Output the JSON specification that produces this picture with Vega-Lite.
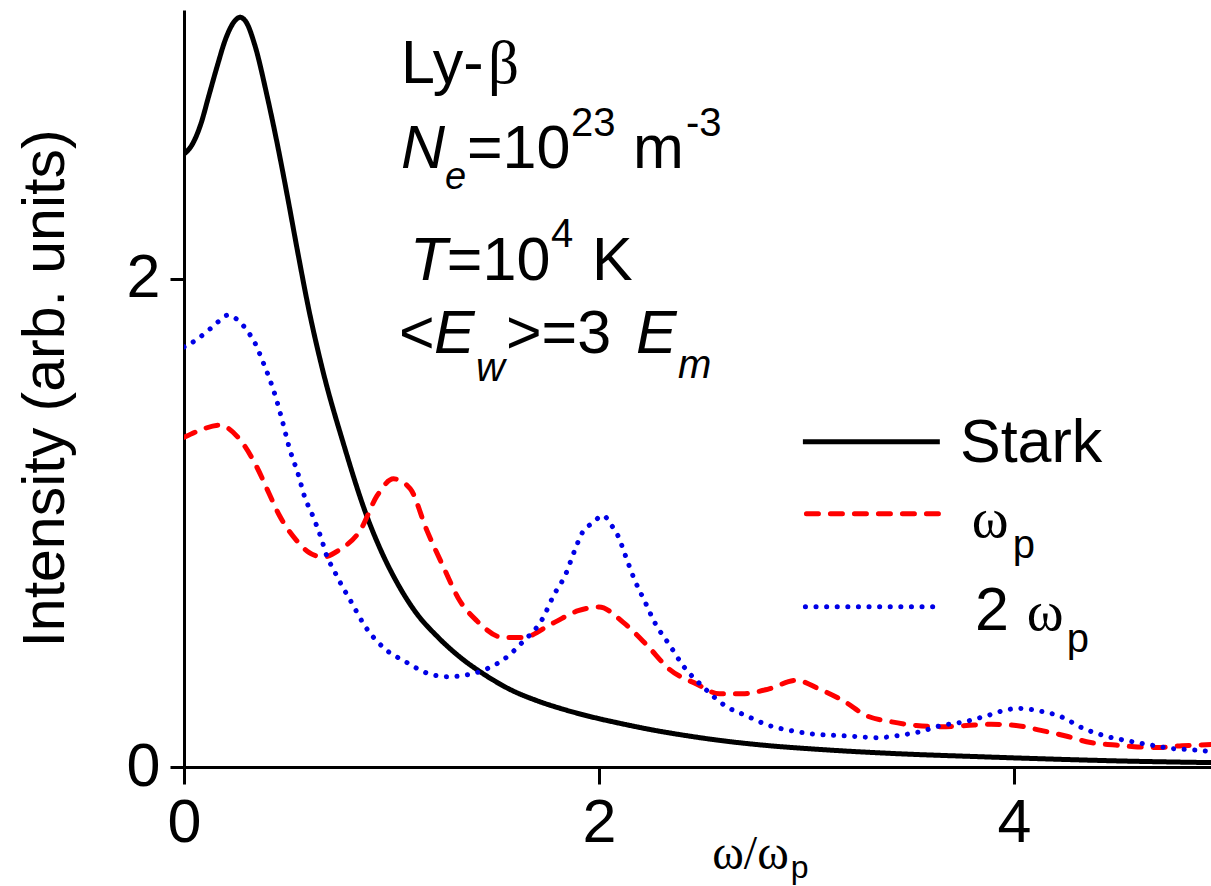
{
  "$schema": "https://vega.github.io/schema/vega-lite/v6.json",
  "width": 1027,
  "height": 757,
  "autosize": {"type": "none"},
  "padding": {"left": 184, "top": 10, "right": 0, "bottom": 119},
  "background": "white",
  "config": {"view": {"stroke": null}, "font": "Liberation Sans"},
  "datasets": {
    "one": [{}],
    "curves": [
      {"series": "Stark", "x": 0, "y": 2.51}, {"series": "Stark", "x": 0.04, "y": 2.55}, {"series": "Stark", "x": 0.08, "y": 2.63}, {"series": "Stark", "x": 0.12, "y": 2.75}, {"series": "Stark", "x": 0.16, "y": 2.87}, {"series": "Stark", "x": 0.2, "y": 2.98}, {"series": "Stark", "x": 0.24, "y": 3.05}, {"series": "Stark", "x": 0.27, "y": 3.07}, {"series": "Stark", "x": 0.3, "y": 3.05}, {"series": "Stark", "x": 0.34, "y": 2.96}, {"series": "Stark", "x": 0.4, "y": 2.75}, {"series": "Stark", "x": 0.45, "y": 2.55}, {"series": "Stark", "x": 0.5, "y": 2.33}, {"series": "Stark", "x": 0.55, "y": 2.1}, {"series": "Stark", "x": 0.6, "y": 1.88}, {"series": "Stark", "x": 0.67, "y": 1.62}, {"series": "Stark", "x": 0.77, "y": 1.32}, {"series": "Stark", "x": 0.88, "y": 1.03}, {"series": "Stark", "x": 0.95, "y": 0.885}, {"series": "Stark", "x": 1.03, "y": 0.75}, {"series": "Stark", "x": 1.12, "y": 0.63}, {"series": "Stark", "x": 1.22, "y": 0.535}, {"series": "Stark", "x": 1.33, "y": 0.45}, {"series": "Stark", "x": 1.44, "y": 0.383}, {"series": "Stark", "x": 1.57, "y": 0.318}, {"series": "Stark", "x": 1.7, "y": 0.272}, {"series": "Stark", "x": 1.83, "y": 0.236}, {"series": "Stark", "x": 1.96, "y": 0.206}, {"series": "Stark", "x": 2.1, "y": 0.179}, {"series": "Stark", "x": 2.25, "y": 0.153}, {"series": "Stark", "x": 2.44, "y": 0.126}, {"series": "Stark", "x": 2.6, "y": 0.107}, {"series": "Stark", "x": 2.76, "y": 0.092}, {"series": "Stark", "x": 3.08, "y": 0.071}, {"series": "Stark", "x": 3.4, "y": 0.056}, {"series": "Stark", "x": 3.84, "y": 0.042}, {"series": "Stark", "x": 4.2, "y": 0.032}, {"series": "Stark", "x": 4.5, "y": 0.025}, {"series": "Stark", "x": 4.95, "y": 0.018},
      {"series": "ωp", "x": 0, "y": 1.35}, {"series": "ωp", "x": 0.08, "y": 1.38}, {"series": "ωp", "x": 0.17, "y": 1.4}, {"series": "ωp", "x": 0.27, "y": 1.34}, {"series": "ωp", "x": 0.35, "y": 1.23}, {"series": "ωp", "x": 0.41, "y": 1.12}, {"series": "ωp", "x": 0.46, "y": 1.03}, {"series": "ωp", "x": 0.54, "y": 0.93}, {"series": "ωp", "x": 0.6, "y": 0.88}, {"series": "ωp", "x": 0.67, "y": 0.86}, {"series": "ωp", "x": 0.75, "y": 0.89}, {"series": "ωp", "x": 0.85, "y": 0.97}, {"series": "ωp", "x": 0.93, "y": 1.11}, {"series": "ωp", "x": 1.01, "y": 1.18}, {"series": "ωp", "x": 1.09, "y": 1.14}, {"series": "ωp", "x": 1.17, "y": 0.97}, {"series": "ωp", "x": 1.25, "y": 0.82}, {"series": "ωp", "x": 1.33, "y": 0.68}, {"series": "ωp", "x": 1.41, "y": 0.6}, {"series": "ωp", "x": 1.54, "y": 0.53}, {"series": "ωp", "x": 1.63, "y": 0.53}, {"series": "ωp", "x": 1.78, "y": 0.59}, {"series": "ωp", "x": 1.9, "y": 0.64}, {"series": "ωp", "x": 2.0, "y": 0.655}, {"series": "ωp", "x": 2.12, "y": 0.59}, {"series": "ωp", "x": 2.23, "y": 0.5}, {"series": "ωp", "x": 2.34, "y": 0.4}, {"series": "ωp", "x": 2.47, "y": 0.34}, {"series": "ωp", "x": 2.58, "y": 0.3}, {"series": "ωp", "x": 2.69, "y": 0.3}, {"series": "ωp", "x": 2.82, "y": 0.32}, {"series": "ωp", "x": 2.95, "y": 0.355}, {"series": "ωp", "x": 3.06, "y": 0.32}, {"series": "ωp", "x": 3.18, "y": 0.27}, {"series": "ωp", "x": 3.29, "y": 0.21}, {"series": "ωp", "x": 3.41, "y": 0.185}, {"series": "ωp", "x": 3.53, "y": 0.17}, {"series": "ωp", "x": 3.65, "y": 0.165}, {"series": "ωp", "x": 3.77, "y": 0.17}, {"series": "ωp", "x": 3.89, "y": 0.175}, {"series": "ωp", "x": 4.01, "y": 0.17}, {"series": "ωp", "x": 4.13, "y": 0.15}, {"series": "ωp", "x": 4.25, "y": 0.127}, {"series": "ωp", "x": 4.37, "y": 0.1}, {"series": "ωp", "x": 4.49, "y": 0.09}, {"series": "ωp", "x": 4.58, "y": 0.083}, {"series": "ωp", "x": 4.69, "y": 0.08}, {"series": "ωp", "x": 4.81, "y": 0.087}, {"series": "ωp", "x": 4.95, "y": 0.092},
      {"series": "2 ωp", "x": 0, "y": 1.72}, {"series": "2 ωp", "x": 0.06, "y": 1.75}, {"series": "2 ωp", "x": 0.12, "y": 1.79}, {"series": "2 ωp", "x": 0.16, "y": 1.82}, {"series": "2 ωp", "x": 0.21, "y": 1.85}, {"series": "2 ωp", "x": 0.26, "y": 1.83}, {"series": "2 ωp", "x": 0.31, "y": 1.78}, {"series": "2 ωp", "x": 0.34, "y": 1.74}, {"series": "2 ωp", "x": 0.38, "y": 1.66}, {"series": "2 ωp", "x": 0.44, "y": 1.52}, {"series": "2 ωp", "x": 0.47, "y": 1.43}, {"series": "2 ωp", "x": 0.51, "y": 1.3}, {"series": "2 ωp", "x": 0.55, "y": 1.2}, {"series": "2 ωp", "x": 0.58, "y": 1.11}, {"series": "2 ωp", "x": 0.62, "y": 1.03}, {"series": "2 ωp", "x": 0.66, "y": 0.94}, {"series": "2 ωp", "x": 0.69, "y": 0.86}, {"series": "2 ωp", "x": 0.72, "y": 0.81}, {"series": "2 ωp", "x": 0.75, "y": 0.76}, {"series": "2 ωp", "x": 0.81, "y": 0.67}, {"series": "2 ωp", "x": 0.87, "y": 0.58}, {"series": "2 ωp", "x": 0.96, "y": 0.49}, {"series": "2 ωp", "x": 1.07, "y": 0.43}, {"series": "2 ωp", "x": 1.17, "y": 0.385}, {"series": "2 ωp", "x": 1.27, "y": 0.37}, {"series": "2 ωp", "x": 1.38, "y": 0.38}, {"series": "2 ωp", "x": 1.48, "y": 0.41}, {"series": "2 ωp", "x": 1.54, "y": 0.44}, {"series": "2 ωp", "x": 1.63, "y": 0.51}, {"series": "2 ωp", "x": 1.73, "y": 0.61}, {"series": "2 ωp", "x": 1.78, "y": 0.7}, {"series": "2 ωp", "x": 1.84, "y": 0.79}, {"series": "2 ωp", "x": 1.88, "y": 0.88}, {"series": "2 ωp", "x": 1.92, "y": 0.96}, {"series": "2 ωp", "x": 1.97, "y": 1.0}, {"series": "2 ωp", "x": 2.02, "y": 1.03}, {"series": "2 ωp", "x": 2.06, "y": 0.99}, {"series": "2 ωp", "x": 2.09, "y": 0.95}, {"series": "2 ωp", "x": 2.13, "y": 0.86}, {"series": "2 ωp", "x": 2.17, "y": 0.77}, {"series": "2 ωp", "x": 2.22, "y": 0.68}, {"series": "2 ωp", "x": 2.27, "y": 0.59}, {"series": "2 ωp", "x": 2.34, "y": 0.5}, {"series": "2 ωp", "x": 2.41, "y": 0.41}, {"series": "2 ωp", "x": 2.5, "y": 0.33}, {"series": "2 ωp", "x": 2.61, "y": 0.25}, {"series": "2 ωp", "x": 2.71, "y": 0.21}, {"series": "2 ωp", "x": 2.82, "y": 0.17}, {"series": "2 ωp", "x": 2.92, "y": 0.15}, {"series": "2 ωp", "x": 3.03, "y": 0.135}, {"series": "2 ωp", "x": 3.13, "y": 0.13}, {"series": "2 ωp", "x": 3.24, "y": 0.125}, {"series": "2 ωp", "x": 3.34, "y": 0.12}, {"series": "2 ωp", "x": 3.45, "y": 0.13}, {"series": "2 ωp", "x": 3.55, "y": 0.145}, {"series": "2 ωp", "x": 3.65, "y": 0.17}, {"series": "2 ωp", "x": 3.76, "y": 0.185}, {"series": "2 ωp", "x": 3.87, "y": 0.21}, {"series": "2 ωp", "x": 3.97, "y": 0.235}, {"series": "2 ωp", "x": 4.02, "y": 0.24}, {"series": "2 ωp", "x": 4.12, "y": 0.23}, {"series": "2 ωp", "x": 4.23, "y": 0.205}, {"series": "2 ωp", "x": 4.33, "y": 0.16}, {"series": "2 ωp", "x": 4.44, "y": 0.127}, {"series": "2 ωp", "x": 4.55, "y": 0.107}, {"series": "2 ωp", "x": 4.66, "y": 0.09}, {"series": "2 ωp", "x": 4.77, "y": 0.075}, {"series": "2 ωp", "x": 4.87, "y": 0.07}, {"series": "2 ωp", "x": 4.95, "y": 0.063}
    ]
  },
  "layer": [
    {
      "data": {"name": "curves"},
      "mark": {"type": "line", "interpolate": "monotone", "strokeWidth": 5, "strokeCap": "round", "clip": true},
      "encoding": {
        "x": {"field": "x", "type": "quantitative",
          "scale": {"domain": [0, 4.95], "nice": false, "zero": false},
          "axis": {"values": [0, 2, 4], "format": "d", "title": "ω/ω", "titleFont": "Liberation Serif", "titleFontSize": 48, "titleFontWeight": "normal", "titleColor": "black", "titleX": 566, "titleY": 101, "titleAlign": "center", "titleBaseline": "alphabetic", "labelFont": "Liberation Sans", "labelFontSize": 61, "labelColor": "black", "labelPadding": 9, "labelFlush": false, "labelOverlap": false, "tickSize": 17, "tickWidth": 3, "tickColor": "black", "domainColor": "black", "domainWidth": 3, "grid": false}},
        "y": {"field": "y", "type": "quantitative",
          "scale": {"domain": [0, 3.1], "nice": false, "zero": false},
          "axis": {"values": [0, 2], "format": "d", "title": "Intensity (arb. units)", "titleFont": "Liberation Sans", "titleFontSize": 59, "titleFontWeight": "normal", "titleColor": "black", "titleX": -121, "titleY": 378, "titleAngle": 270, "titleAlign": "center", "titleBaseline": "alphabetic", "labelFont": "Liberation Sans", "labelFontSize": 61, "labelColor": "black", "labelPadding": 10, "labelFlush": false, "labelOverlap": false, "tickSize": 14, "tickWidth": 3, "tickColor": "black", "domainColor": "black", "domainWidth": 3, "grid": false}},
        "color": {"field": "series", "type": "nominal", "scale": {"domain": ["Stark", "ωp", "2 ωp"], "range": ["#000000", "#ff0000", "#0000e6"]}, "legend": null},
        "strokeDash": {"field": "series", "type": "nominal", "scale": {"domain": ["Stark", "ωp", "2 ωp"], "range": [[1, 0], [12, 12], [0.1, 10.5]]}, "legend": null},
        "detail": {"field": "series"}
      }
    },
    {"data": {"name": "one"}, "mark": {"type": "rule", "stroke": "#000000", "strokeWidth": 5}, "encoding": {"x": {"datum": 2.983}, "x2": {"datum": 3.643}, "y": {"datum": 1.332}}},
    {"data": {"name": "one"}, "mark": {"type": "rule", "stroke": "#ff0000", "strokeWidth": 5, "strokeCap": "round", "strokeDash": [12, 12]}, "encoding": {"x": {"datum": 3.0}, "x2": {"datum": 3.643}, "y": {"datum": 1.037}}},
    {"data": {"name": "one"}, "mark": {"type": "rule", "stroke": "#0000e6", "strokeWidth": 5, "strokeCap": "round", "strokeDash": [0.1, 10.5]}, "encoding": {"x": {"datum": 2.995}, "x2": {"datum": 3.643}, "y": {"datum": 0.656}}},
    {"data": {"name": "one"}, "mark": {"type": "text", "text": "Stark", "font": "Liberation Sans", "fontSize": 61, "align": "left", "baseline": "alphabetic", "color": "black"}, "encoding": {"x": {"datum": 3.74}, "y": {"datum": 1.25}}},
    {"data": {"name": "one"}, "mark": {"type": "text", "text": "ω", "font": "Liberation Serif", "fontSize": 56, "align": "left", "baseline": "alphabetic", "color": "black"}, "encoding": {"x": {"datum": 3.797}, "y": {"datum": 0.943}}},
    {"data": {"name": "one"}, "mark": {"type": "text", "text": "p", "font": "Liberation Sans", "fontSize": 40, "align": "left", "baseline": "alphabetic", "color": "black"}, "encoding": {"x": {"datum": 3.995}, "y": {"datum": 0.857}}},
    {"data": {"name": "one"}, "mark": {"type": "text", "text": "2", "font": "Liberation Sans", "fontSize": 61, "align": "left", "baseline": "alphabetic", "color": "black"}, "encoding": {"x": {"datum": 3.812}, "y": {"datum": 0.561}}},
    {"data": {"name": "one"}, "mark": {"type": "text", "text": "ω", "font": "Liberation Serif", "fontSize": 56, "align": "left", "baseline": "alphabetic", "color": "black"}, "encoding": {"x": {"datum": 4.062}, "y": {"datum": 0.561}}},
    {"data": {"name": "one"}, "mark": {"type": "text", "text": "p", "font": "Liberation Sans", "fontSize": 40, "align": "left", "baseline": "alphabetic", "color": "black"}, "encoding": {"x": {"datum": 4.255}, "y": {"datum": 0.471}}},
    {"data": {"name": "one"}, "mark": {"type": "text", "text": "p", "font": "Liberation Sans", "fontSize": 32, "align": "left", "baseline": "alphabetic", "color": "black"}, "encoding": {"x": {"datum": 2.925}, "y": {"datum": -0.455}}},
    {"data": {"name": "one"}, "mark": {"type": "text", "text": "Ly-", "font": "Liberation Sans", "fontSize": 61, "align": "left", "baseline": "alphabetic", "color": "black"}, "encoding": {"x": {"datum": 1.046}, "y": {"datum": 2.803}}},
    {"data": {"name": "one"}, "mark": {"type": "text", "text": "β", "font": "Liberation Serif", "fontSize": 61, "align": "left", "baseline": "alphabetic", "color": "black"}, "encoding": {"x": {"datum": 1.465}, "y": {"datum": 2.803}}},
    {"data": {"name": "one"}, "mark": {"type": "text", "text": "N", "font": "Liberation Sans", "fontStyle": "italic", "fontSize": 61, "align": "left", "baseline": "alphabetic", "color": "black"}, "encoding": {"x": {"datum": 1.046}, "y": {"datum": 2.455}}},
    {"data": {"name": "one"}, "mark": {"type": "text", "text": "e", "font": "Liberation Sans", "fontStyle": "italic", "fontSize": 38, "align": "left", "baseline": "alphabetic", "color": "black"}, "encoding": {"x": {"datum": 1.258}, "y": {"datum": 2.365}}},
    {"data": {"name": "one"}, "mark": {"type": "text", "text": "=10", "font": "Liberation Sans", "fontSize": 61, "align": "left", "baseline": "alphabetic", "color": "black"}, "encoding": {"x": {"datum": 1.364}, "y": {"datum": 2.455}}},
    {"data": {"name": "one"}, "mark": {"type": "text", "text": "23", "font": "Liberation Sans", "fontSize": 40, "align": "left", "baseline": "alphabetic", "color": "black"}, "encoding": {"x": {"datum": 1.865}, "y": {"datum": 2.586}}},
    {"data": {"name": "one"}, "mark": {"type": "text", "text": "m", "font": "Liberation Sans", "fontSize": 61, "align": "left", "baseline": "alphabetic", "color": "black"}, "encoding": {"x": {"datum": 2.164}, "y": {"datum": 2.455}}},
    {"data": {"name": "one"}, "mark": {"type": "text", "text": "-3", "font": "Liberation Sans", "fontSize": 40, "align": "left", "baseline": "alphabetic", "color": "black"}, "encoding": {"x": {"datum": 2.419}, "y": {"datum": 2.586}}},
    {"data": {"name": "one"}, "mark": {"type": "text", "text": "T", "font": "Liberation Sans", "fontStyle": "italic", "fontSize": 61, "align": "left", "baseline": "alphabetic", "color": "black"}, "encoding": {"x": {"datum": 1.089}, "y": {"datum": 1.996}}},
    {"data": {"name": "one"}, "mark": {"type": "text", "text": "=10", "font": "Liberation Sans", "fontSize": 61, "align": "left", "baseline": "alphabetic", "color": "black"}, "encoding": {"x": {"datum": 1.267}, "y": {"datum": 1.996}}},
    {"data": {"name": "one"}, "mark": {"type": "text", "text": "4", "font": "Liberation Sans", "fontSize": 40, "align": "left", "baseline": "alphabetic", "color": "black"}, "encoding": {"x": {"datum": 1.769}, "y": {"datum": 2.131}}},
    {"data": {"name": "one"}, "mark": {"type": "text", "text": "K", "font": "Liberation Sans", "fontSize": 61, "align": "left", "baseline": "alphabetic", "color": "black"}, "encoding": {"x": {"datum": 1.966}, "y": {"datum": 1.996}}},
    {"data": {"name": "one"}, "mark": {"type": "text", "text": "<", "font": "Liberation Sans", "fontSize": 61, "align": "left", "baseline": "alphabetic", "color": "black"}, "encoding": {"x": {"datum": 1.036}, "y": {"datum": 1.697}}},
    {"data": {"name": "one"}, "mark": {"type": "text", "text": "E", "font": "Liberation Sans", "fontStyle": "italic", "fontSize": 61, "align": "left", "baseline": "alphabetic", "color": "black"}, "encoding": {"x": {"datum": 1.205}, "y": {"datum": 1.697}}},
    {"data": {"name": "one"}, "mark": {"type": "text", "text": "w", "font": "Liberation Sans", "fontStyle": "italic", "fontSize": 40, "align": "left", "baseline": "alphabetic", "color": "black"}, "encoding": {"x": {"datum": 1.407}, "y": {"datum": 1.582}}},
    {"data": {"name": "one"}, "mark": {"type": "text", "text": ">=3", "font": "Liberation Sans", "fontSize": 61, "align": "left", "baseline": "alphabetic", "color": "black"}, "encoding": {"x": {"datum": 1.552}, "y": {"datum": 1.697}}},
    {"data": {"name": "one"}, "mark": {"type": "text", "text": "E", "font": "Liberation Sans", "fontStyle": "italic", "fontSize": 61, "align": "left", "baseline": "alphabetic", "color": "black"}, "encoding": {"x": {"datum": 2.178}, "y": {"datum": 1.697}}},
    {"data": {"name": "one"}, "mark": {"type": "text", "text": "m", "font": "Liberation Sans", "fontStyle": "italic", "fontSize": 40, "align": "left", "baseline": "alphabetic", "color": "black"}, "encoding": {"x": {"datum": 2.381}, "y": {"datum": 1.594}}}
  ]
}
